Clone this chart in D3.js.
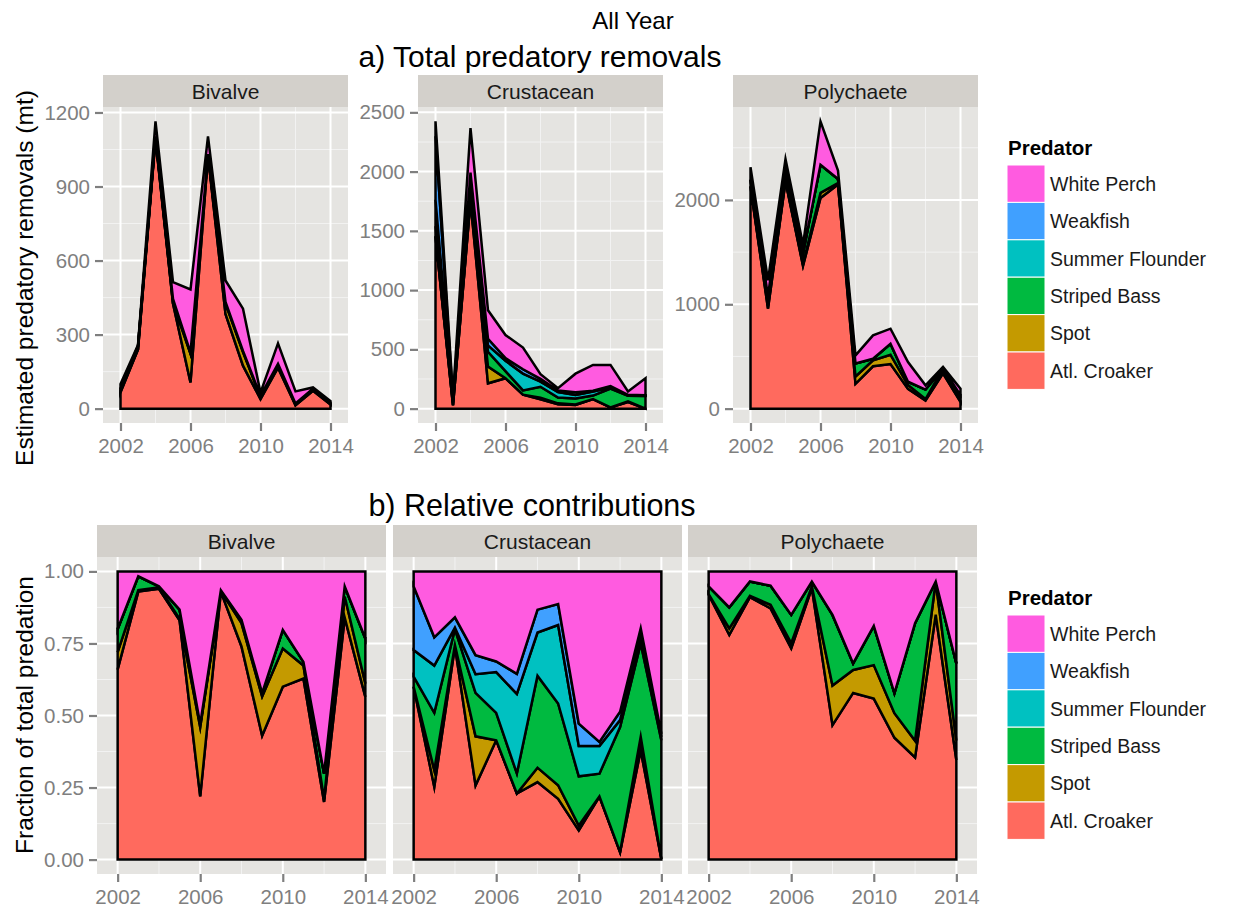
<!DOCTYPE html>
<html>
<head>
<meta charset="utf-8">
<script src="https://cdn.jsdelivr.net/npm/d3@7"></script>
<style>
  body { margin: 0; background: #ffffff; }
  text { font-family: "Liberation Sans", Arial, Helvetica, sans-serif; }
</style>
</head>
<body>
<svg id="chart" width="1233" height="912"></svg>
<script>
// ---------------- data ----------------
const years = [2002, 2003, 2004, 2005, 2006, 2007, 2008, 2009, 2010, 2011, 2012, 2013, 2014];
const predators = ["Atl. Croaker", "Spot", "Striped Bass", "Summer Flounder", "Weakfish", "White Perch"];
const predatorColors = ["#FF6A5E", "#C49A00", "#00BA40", "#00C1C1", "#40A0FF", "#FF5BE0"];
const preyGroups = ["Bivalve", "Crustacean", "Polychaete"];

// Estimated predatory removals (mt), by prey group and predator
const bivalveCroaker   = [66, 240, 1094, 426, 106, 1026, 384, 174, 39, 166, 14, 72.2, 17];
const bivalveSpot      = [6, 1.3, 6, 2.6, 116, 2.2, 42, 55, 8.6, 12, 0.7, 6.3, 1.4];
const bivalveStriped   = [8, 12.4, 3.5, 16.4, 4.8, 3.3, 6.2, 4.9, 4.2, 3.2, 6.2, 3.0, 4.7];
const bivalveFlounder  = [0, 0, 0, 0, 0, 0, 0, 0, 0, 0, 0, 0, 0];
const bivalveWeakfish  = [0, 0, 0, 0, 0, 0, 0, 0, 0, 0, 0, 0, 0];
const bivalvePerch     = [20, 4.4, 60.5, 68, 256, 72, 87, 171, 13.2, 83, 49.1, 4.5, 7];

const crustCroaker     = [1454, 26.5, 1752, 214, 257, 118, 78, 36.5, 29.8, 80.8, 9.6, 55, 0.5];
const crustSpot        = [0, 6.1, 12, 141, 0, 0, 14.5, 8.1, 5.0, 0, 0, 6.8, 0];
const crustStriped     = [85, 20.9, 130, 125, 59, 36, 92.5, 49.1, 50.4, 29.2, 160.1, 47, 105.9];
const crustFlounder    = [223, 17.2, 12, 54, 88, 142, 43.5, 47.1, 31.0, 35.4, 8.9, 3.0, 3.1];
const crustWeakfish    = [536, 10.3, 85, 55, 23, 36, 23, 12.6, 23.0, 5.2, 10.7, 4.6, 2.8];
const crustPerch       = [126, 24.0, 377, 241, 194, 183, 38.5, 19.6, 155.8, 218.4, 179.7, 28.6, 144.7];

const polyCroaker      = [2126, 959, 2179, 1369, 2018, 2149, 238, 406, 428, 189, 79, 339, 66];
const polySpot         = [5, 28, 10, 19, 50, 14, 70, 56, 89, 38, 13, 46, 13];
const polyStriped      = [62, 90, 120, 104, 270, 38, 125, 16, 104, 31, 91, 0, 51];
const polyFlounder     = [0, 0, 0, 0, 0, 0, 0, 0, 0, 0, 0, 0, 0];
const polyWeakfish     = [0, 0, 0, 0, 0, 0, 0, 0, 0, 0, 0, 0, 0];
const polyPerch        = [120, 153, 83, 78, 415, 80, 77, 224, 145, 189, 40, 14, 61];

// axis tick labels
const xTickYears = [2002, 2006, 2010, 2014];
const removalTicks = {
  Bivalve:    [0, 300, 600, 900, 1200],
  Crustacean: [0, 500, 1000, 1500, 2000, 2500],
  Polychaete: [0, 1000, 2000]
};
const fractionTicks = [0, 0.25, 0.5, 0.75, 1];

// ---------------- build per-prey tables ----------------
const seriesByPrey = {
  Bivalve:    [bivalveCroaker, bivalveSpot, bivalveStriped, bivalveFlounder, bivalveWeakfish, bivalvePerch],
  Crustacean: [crustCroaker, crustSpot, crustStriped, crustFlounder, crustWeakfish, crustPerch],
  Polychaete: [polyCroaker, polySpot, polyStriped, polyFlounder, polyWeakfish, polyPerch]
};
function tableFor(prey) {
  return years.map((yr, i) => {
    const row = { year: yr };
    predators.forEach((p, k) => { row[p] = seriesByPrey[prey][k][i]; });
    return row;
  });
}
const color = d3.scaleOrdinal().domain(predators).range(predatorColors);

// ---------------- drawing ----------------
const svg = d3.select("#chart");
const TICK_GREY = "#7f7f7f";
const PANEL_BG = "#e5e4e1";
const STRIP_BG = "#d3d0cb";

function drawPanel(opts) {
  const { prey, left, width, stripTop, panelTop, panelBottom, offset, yTicks, yFormat, showY } = opts;
  const rows = tableFor(prey);
  const stack = d3.stack().keys(predators).offset(offset);
  const layers = stack(rows);
  const maxV = offset === d3.stackOffsetExpand ? 1 : d3.max(layers[layers.length - 1], d => d[1]);

  const x = d3.scaleLinear().domain([2001, 2015]).range([left, left + width]);
  const y = d3.scaleLinear().domain([-0.05 * maxV, 1.05 * maxV]).range([panelBottom, panelTop]);

  const g = svg.append("g");

  // strip
  g.append("rect").attr("x", left).attr("y", stripTop).attr("width", width)
    .attr("height", panelTop - stripTop).attr("fill", STRIP_BG);
  g.append("text").attr("x", left + width / 2).attr("y", (stripTop + panelTop) / 2 + 7.5)
    .attr("text-anchor", "middle").attr("font-size", 21).attr("fill", "#1a1a1a").text(prey);

  // panel background
  g.append("rect").attr("x", left).attr("y", panelTop).attr("width", width)
    .attr("height", panelBottom - panelTop).attr("fill", PANEL_BG);

  // minor grid
  const [d0, d1] = y.domain();
  const yMinor = d3.pairs(yTicks).map(([a, b]) => (a + b) / 2);
  const step = yTicks[1] - yTicks[0];
  yMinor.push(yTicks[yTicks.length - 1] + step / 2);
  const xMinor = d3.pairs(xTickYears).map(([a, b]) => (a + b) / 2);
  g.selectAll(".ymin").data(yMinor.filter(v => v > d0 && v < d1)).enter().append("line")
    .attr("x1", left).attr("x2", left + width).attr("y1", d => y(d)).attr("y2", d => y(d))
    .attr("stroke", "#f2f2f2").attr("stroke-width", 1);
  g.selectAll(".xmin").data(xMinor).enter().append("line")
    .attr("y1", panelTop).attr("y2", panelBottom).attr("x1", d => x(d)).attr("x2", d => x(d))
    .attr("stroke", "#f2f2f2").attr("stroke-width", 1);
  // major grid
  g.selectAll(".ymaj").data(yTicks).enter().append("line")
    .attr("x1", left).attr("x2", left + width).attr("y1", d => y(d)).attr("y2", d => y(d))
    .attr("stroke", "#ffffff").attr("stroke-width", 2);
  g.selectAll(".xmaj").data(xTickYears).enter().append("line")
    .attr("y1", panelTop).attr("y2", panelBottom).attr("x1", d => x(d)).attr("x2", d => x(d))
    .attr("stroke", "#ffffff").attr("stroke-width", 2);

  // stacked areas
  const area = d3.area()
    .x(d => x(d.data.year))
    .y0(d => y(d[0]))
    .y1(d => y(d[1]));
  g.selectAll(".layer").data(layers).enter().append("path")
    .attr("d", area)
    .attr("fill", d => color(d.key))
    .attr("stroke", "#000000")
    .attr("stroke-width", 2.5)
    .attr("stroke-linejoin", "miter")
    .attr("stroke-miterlimit", 6);

  // x axis
  const xAxis = g.append("g").attr("transform", `translate(0,${panelBottom})`)
    .call(d3.axisBottom(x).tickValues(xTickYears).tickFormat(d3.format("d"))
      .tickSize(8).tickSizeOuter(0).tickPadding(7));
  styleAxis(xAxis);

  if (showY) {
    const yAxis = g.append("g").attr("transform", `translate(${left},0)`)
      .call(d3.axisLeft(y).tickValues(yTicks).tickFormat(yFormat)
        .tickSize(8).tickSizeOuter(0).tickPadding(5));
    styleAxis(yAxis);
  }
}

function styleAxis(sel) {
  sel.select(".domain").remove();
  sel.selectAll(".tick line").attr("stroke", TICK_GREY).attr("stroke-width", 2.2);
  sel.selectAll(".tick text").attr("fill", TICK_GREY).attr("font-size", 20.5)
    .attr("font-family", "Liberation Sans, Arial, sans-serif");
}

function drawLegend(titleBaseline) {
  const g = svg.append("g");
  g.append("text").attr("x", 1008).attr("y", titleBaseline)
    .attr("font-size", 20.5).attr("font-weight", "bold").attr("fill", "#000").text("Predator");
  const keyH = 37.4, keyTop = titleBaseline + 10;
  const order = predators.slice().reverse();
  order.forEach((p, i) => {
    g.append("rect").attr("x", 1007).attr("y", keyTop + i * keyH)
      .attr("width", 38).attr("height", keyH)
      .attr("fill", color(p)).attr("stroke", "#ffffff").attr("stroke-width", 1);
    g.append("text").attr("x", 1050).attr("y", keyTop + i * keyH + keyH / 2 + 7)
      .attr("font-size", 19.5).attr("fill", "#1a1a1a").text(p);
  });
}

// titles
svg.append("text").attr("x", 633).attr("y", 29).attr("text-anchor", "middle")
  .attr("font-size", 24).attr("fill", "#000").text("All Year");
svg.append("text").attr("x", 540).attr("y", 67).attr("text-anchor", "middle")
  .attr("font-size", 30).attr("fill", "#000").text("a) Total predatory removals");
svg.append("text").attr("x", 532).attr("y", 516).attr("text-anchor", "middle")
  .attr("font-size", 30.5).attr("fill", "#000").text("b) Relative contributions");

// y axis titles
svg.append("text").attr("transform", "translate(33,278) rotate(-90)").attr("text-anchor", "middle")
  .attr("font-size", 24.5).attr("fill", "#000").text("Estimated predatory removals (mt)");
svg.append("text").attr("transform", "translate(33,715) rotate(-90)").attr("text-anchor", "middle")
  .attr("font-size", 24.5).attr("fill", "#000").text("Fraction of total predation");

// a) absolute removals, free y scales
const topLefts = [103, 418, 733];
preyGroups.forEach((prey, i) => {
  drawPanel({
    prey, left: topLefts[i], width: 245, stripTop: 75, panelTop: 107, panelBottom: 423,
    offset: d3.stackOffsetNone, yTicks: removalTicks[prey], yFormat: d3.format("d"), showY: true
  });
});

// b) relative contributions, shared y scale
const bottomLefts = [97, 393, 688];
preyGroups.forEach((prey, i) => {
  drawPanel({
    prey, left: bottomLefts[i], width: 289, stripTop: 525, panelTop: 557, panelBottom: 874,
    offset: d3.stackOffsetExpand, yTicks: fractionTicks, yFormat: d3.format(".2f"), showY: i === 0
  });
});

drawLegend(155);
drawLegend(605);
</script>
</body>
</html>
